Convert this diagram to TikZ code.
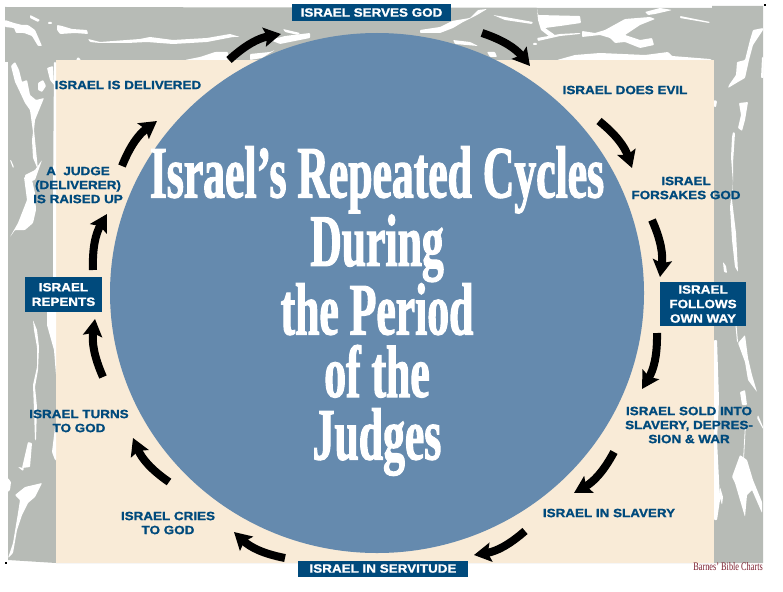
\documentclass[tikz,border=0pt]{standalone}
\usepackage{fontspec}
\usetikzlibrary{arrows.meta}
\setmainfont{Liberation Sans}
\newfontfamily\lblfont[FakeStretch=1.12,FakeBold=1.2]{Liberation Sans Bold}
\newfontfamily\ttlfont[FakeStretch=0.59,FakeBold=1.4]{Liberation Serif Bold}
\newfontfamily\crfont[FakeStretch=0.72]{Liberation Serif}
\definecolor{frameg}{HTML}{B7BBB6}
\definecolor{creamb}{HTML}{F9EBD7}
\definecolor{discb}{HTML}{658AAE}
\definecolor{navyb}{HTML}{004A7C}
\definecolor{credr}{HTML}{7A1C2C}
\tikzset{
  streak/.style={fill=white,rounded corners=0.8pt},
  lbl/.style={text=navyb,font=\lblfont\fontsize{12}{14}\selectfont,align=center,inner sep=0pt},
  boxlbl/.style={fill=navyb,text=white,font=\lblfont\fontsize{12}{14.5}\selectfont,align=center,inner sep=0pt},
  cyc/.style={line width=8pt,black,-{Stealth[length=17pt,width=19pt,inset=3pt]},bend left=16}
}
\begin{document}
\begin{tikzpicture}[x=1pt,y=-1pt]
\useasboundingbox (0,0) rectangle (783,591);
% frame
\fill[frameg] (5,7) -- (712,8) -- (712,6) -- (763,6) -- (763,563) -- (714,563) -- (56,563) -- (8,560) -- (8,62) -- (5,62) -- cycle;
\fill[creamb] (56,60) rectangle (714,563);
% top band, left part
\fill[streak] (88,39) -- (100,42) -- (140,39) -- (150,37) -- (173,40) -- (207,38) -- (230,34) -- (240,37) -- (233,37) -- (207,42) -- (173,44) -- (147,42) -- (127,43) -- (100,43) -- (90,42) -- cycle;
\fill[streak] (57,25) -- (62,26) -- (72,29) -- (87,30) -- (88,34) -- (75,33) -- (60,34) -- (57,30) -- cycle;
\fill[streak] (5,20) -- (14,23) -- (22,25) -- (28,25) -- (35,30) -- (42,46) -- (38,46) -- (32,36) -- (24,33) -- (16,33) -- (14,28) -- (5,27) -- cycle;
\fill[streak] (30,15) -- (40,20) -- (38,22) -- (30,18) -- cycle;
\fill[streak] (48,22) -- (52,22) -- (52,24) -- (48,24) -- cycle;
\fill[streak] (185,60) -- (200,57) -- (215,52) -- (228,52) -- (228,60) -- cycle;
\fill[streak] (250,54) -- (270,52) -- (275,50) -- (262,58) -- (250,60) -- cycle;
\fill[streak] (283,29) -- (300,33) -- (298,35) -- (285,32) -- cycle;
\fill[streak] (270,40) -- (285,36) -- (310,33) -- (310,38) -- (280,44) -- cycle;
\fill[streak] (76,60) -- (78,57) -- (81,60) -- cycle;
% top band, right part
\fill[streak] (452,21) -- (470,18) -- (478,10) -- (487,9) -- (477,15) -- (463,22) -- (453,28) -- (440,33) -- (420,33) -- (420,30) -- (440,27) -- cycle;
\fill[streak] (493,15) -- (505,17) -- (533,22) -- (532,24) -- (505,20) -- cycle;
\fill[streak] (453,40) -- (470,42) -- (478,46) -- (455,44) -- cycle;
\fill[streak] (487,52) -- (495,52) -- (497,57) -- (490,57) -- cycle;
\fill[streak] (537,8) -- (538,15) -- (580,16) -- (581,23) -- (560,26) -- (545,28) -- (555,35) -- (550,37) -- (541,30) -- (538,20) -- cycle;
\fill[streak] (537,38) -- (560,34) -- (580,33) -- (580,34) -- (560,36) -- (538,41) -- cycle;
\fill[streak] (582,31) -- (595,33) -- (605,30) -- (625,19) -- (650,17) -- (655,19) -- (640,25) -- (625,35) -- (640,40) -- (652,38) -- (654,45) -- (640,48) -- (625,42) -- (615,43) -- (610,38) -- (600,35) -- (582,37) -- cycle;
\fill[streak] (645,12) -- (660,8) -- (672,10) -- (668,11) -- (655,14) -- (648,15) -- cycle;
\fill[streak] (680,16) -- (710,22) -- (709,23) -- (680,18) -- cycle;
\fill[streak] (557,60) -- (575,55) -- (600,53) -- (645,55) -- (668,52) -- (672,56) -- (710,59) -- (712,60) -- cycle;
\fill[streak] (533,43) -- (537,43) -- (537,45) -- (533,45) -- cycle;
% right band, upper
\fill[streak] (763,28) -- (753,30) -- (750,40) -- (745,60) -- (737,62) -- (736,75) -- (729,85) -- (728,88) -- (738,82) -- (745,78) -- (749,60) -- (753,45) -- (763,30) -- cycle;
\fill[streak] (762,57) -- (763.5,57) -- (763.5,78) -- (761,78) -- cycle;
\fill[streak] (739,103) -- (748,102) -- (745,120) -- (742,131) -- (738,128) -- (741,115) -- cycle;
\fill[streak] (733,132) -- (735,133) -- (733,163) -- (733,182) -- (732,200) -- (736,233) -- (738,272) -- (735,267) -- (732,240) -- (730,207) -- (733,183) -- (731,157) -- (732,137) -- cycle;
\fill[streak] (714,100) -- (717,101) -- (716,107) -- (714,107) -- cycle;
\fill[streak] (723,262) -- (726,266) -- (727,273) -- (724,272) -- cycle;
% right band, lower
\fill[streak] (714,340) -- (717,340) -- (719,400) -- (717,440) -- (720,500) -- (717,520) -- (714,520) -- cycle;
\fill[streak] (738,343) -- (745,335) -- (748,358) -- (752,375) -- (757,392) -- (748,380) -- (745,362) -- cycle;
\fill[streak] (740,392) -- (745,390) -- (747,405) -- (742,405) -- cycle;
\fill[streak] (732,477) -- (740,455) -- (747,460) -- (753,480) -- (762,502) -- (762,513) -- (752,490) -- (747,495) -- (745,517) -- (740,500) -- (735,483) -- cycle;
\fill[streak] (720,487) -- (723,497) -- (722,505) -- (719,495) -- cycle;
\fill[streak] (758,415) -- (763,427) -- (763,429) -- (757,418) -- cycle;
\fill[streak] (735,320) -- (736,320) -- (738,342) -- (737,342) -- cycle;
\fill[streak] (745,425) -- (745.8,425) -- (744,458) -- (743.2,458) -- cycle;
% left band, upper
\fill[streak] (11,66) -- (15,82) -- (18,88) -- (25,103) -- (30,110) -- (33,132) -- (32,140) -- (33,158) -- (36,165) -- (38,170) -- (34,130) -- (35,120) -- (44,98) -- (36,100) -- (30,95) -- (27,80) -- (22,82) -- (19,70) -- (15,62) -- cycle;
\fill[streak] (38,83) -- (43,80) -- (46,86) -- (42,92) -- (38,90) -- cycle;
\fill[streak] (54,62) -- (56,62) -- (56,375) -- (54,350) -- (47,325) -- (47,312) -- (53,300) -- (53,200) -- cycle;
\fill[streak] (47,68) -- (53,66) -- (54,85) -- (50,80) -- cycle;
\fill[streak] (25,175) -- (35,170) -- (42,160) -- (35,180) -- (25,183) -- cycle;
\fill[streak] (24,177) -- (27,200) -- (18,223) -- (10,237) -- (15,230) -- (25,230) -- (33,223) -- (36,210) -- (35,193) -- (32,180) -- cycle;
\fill[streak] (10,160) -- (11,160) -- (14,167) -- (13,168) -- cycle;
% left band, lower
\fill[streak] (33,320) -- (37,330) -- (39,347) -- (38,370) -- (35,387) -- (37,407) -- (36,440) -- (35,440) -- (34,410) -- (33,385) -- (37,367) -- (37,347) -- (34,330) -- cycle;
\fill[streak] (22,468) -- (28,442) -- (32,443) -- (30,467) -- cycle;
\fill[streak] (55,427) -- (52,452) -- (55,460) -- (56,460) -- (56,427) -- cycle;
\fill[streak] (15,495) -- (25,487) -- (42,483) -- (35,497) -- (28,503) -- (22,515) -- (17,530) -- (13,553) -- (8,558) -- (13,543) -- (18,513) -- (20,500) -- cycle;
\fill[streak] (8,478) -- (11,482) -- (10,490) -- (8,492) -- cycle;
\fill[streak] (18,467) -- (24,468) -- (23,471) -- cycle;
% crop marks
\fill[black] (5,562) rectangle (7,564);
\fill[black] (764,4) rectangle (766,6);
% disc
\fill[discb] (377,293) ellipse [x radius=267,y radius=260];
% title
\node (title) at (377,311) [text=white,font=\ttlfont\fontsize{74}{62.5}\selectfont,align=center,inner sep=0pt] {Israel’s Repeated Cycles\\During\\the Period\\of the\\Judges};
% labels
\node[boxlbl,minimum width=159pt,minimum height=17pt] (serves) at (371.5,12.5) {ISRAEL SERVES GOD};
\node[lbl] (evil) at (625,90) {ISRAEL DOES EVIL};
\node[lbl] (forsakes) at (686,188) {ISRAEL\\FORSAKES GOD};
\node[boxlbl,minimum width=86pt,minimum height=44pt] (follows) at (703,304) {ISRAEL\\FOLLOWS\\OWN WAY};
\node[lbl] (sold) at (689,425) {ISRAEL SOLD INTO\\SLAVERY, DEPRES-\\SION \& WAR};
\node[lbl] (slavery) at (609,513) {ISRAEL IN SLAVERY};
\node[boxlbl,minimum width=170pt,minimum height=16pt] (servitude) at (383,568.5) {ISRAEL IN SERVITUDE};
\node[lbl] (cries) at (168,523) {ISRAEL CRIES\\TO GOD};
\node[lbl] (turns) at (79,421) {ISRAEL TURNS\\TO GOD};
\node[boxlbl,minimum width=77pt,minimum height=35pt] (repents) at (63.5,294.5) {ISRAEL\\REPENTS};
\node[lbl] (judge) at (78,185) {A\ \ JUDGE\\(DELIVERER)\\IS RAISED UP};
\node[lbl] (delivered) at (128,85) {ISRAEL IS DELIVERED};
\node[text=credr,font=\crfont\fontsize{11.5}{12}\selectfont,inner sep=0pt,anchor=base east] (credit) at (763,570) {Barnes’ Bible Charts};
% arrow ends
\coordinate (a1s) at (229,60); \coordinate (a1e) at (281,34);
\coordinate (a2s) at (482,33); \coordinate (a2e) at (530,66);
\coordinate (a3s) at (599,121); \coordinate (a3e) at (632,168);
\coordinate (a4s) at (652,220); \coordinate (a4e) at (660,277);
\coordinate (a5s) at (657,333); \coordinate (a5e) at (642,389);
\coordinate (a6s) at (614,452); \coordinate (a6e) at (574,493);
\coordinate (a7s) at (525,531); \coordinate (a7e) at (474,555);
\coordinate (a8s) at (285,558); \coordinate (a8e) at (234,532);
\coordinate (a9s) at (169,482); \coordinate (a9e) at (133,438);
\coordinate (a10s) at (103,377); \coordinate (a10e) at (95,319);
\coordinate (a11s) at (93,270); \coordinate (a11e) at (107,214);
\coordinate (a12s) at (122,166); \coordinate (a12e) at (157,121);
\foreach \i in {1,...,12} {\draw[cyc] (a\i s) to (a\i e);}
\end{tikzpicture}
\end{document}
